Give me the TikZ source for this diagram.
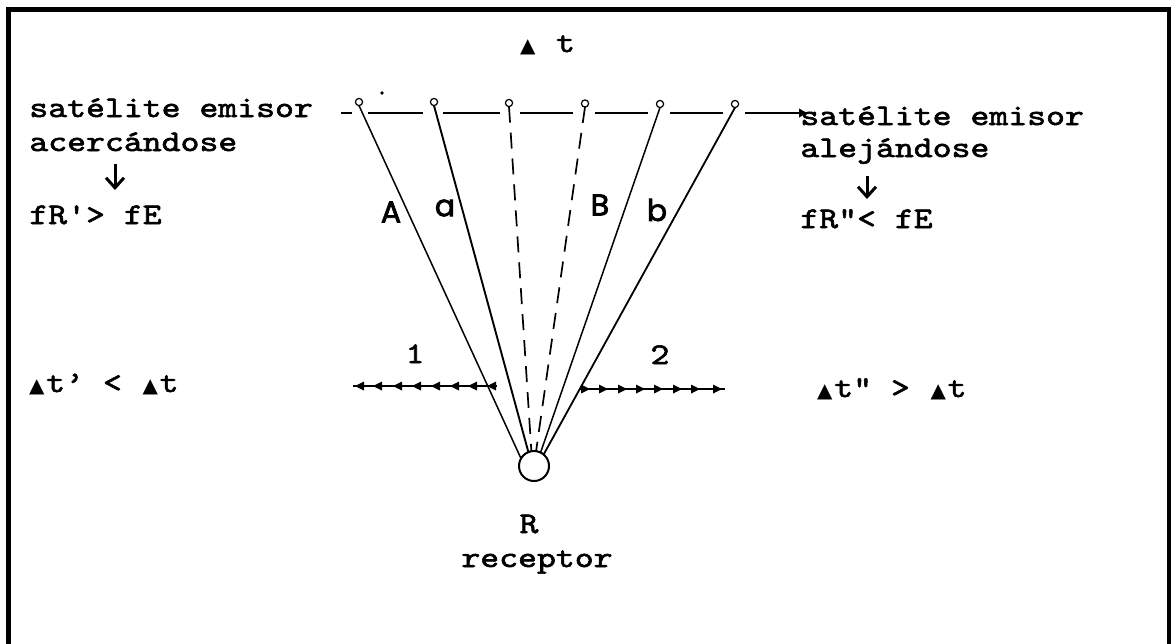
\documentclass[tikz,border=0pt]{standalone}
\usepackage{fontspec}
\usetikzlibrary{arrows.meta}
\newfontfamily\twf{lmmono10-regular.otf}[FakeStretch=1.2, FakeBold=2]
\newfontfamily\symf{DejaVu Sans}
\newfontfamily\handf{Poppins}[FakeBold=2.5]
\newcommand\mytri{\makebox[0.63em]{\symf\fontsize{10}{10}\selectfont ▲}}
\begin{document}
\begin{tikzpicture}[x=0.5pt,y=-0.5pt,
  tw/.style={font=\twf\fontsize{15}{18}\selectfont, inner sep=0pt, anchor=base west},
  lab/.style={font=\handf\fontsize{15}{17}\selectfont, inner sep=0pt},
  sat/.style={circle, draw, line width=0.6pt, minimum size=3.6pt, inner sep=0pt, outer sep=0pt},
  ray/.style={line width=0.75pt},
  dray/.style={line width=0.85pt, dash pattern=on 8pt off 5pt},
  hl/.style={line width=1pt},
  darr/.style={line width=1.5pt, -{Straight Barb[length=5pt,width=9pt,line width=1.5pt]}}
]
\useasboundingbox (0,0) rectangle (1173,643);
% frame
\draw[line width=2.3pt] (8.5,9.5) rectangle (1169,680);

% top label
\node[tw] (dt) at (518,52) {\mytri{} t};

% left texts
\node[tw] (l1) at (29,117) {satélite emisor};
\node[tw] (l2) at (29,151) {acercándose};
\node[tw] (l3) at (29,224) {fR'> fE};
\coordinate (la1) at (115,164);
\coordinate (la2) at (115,190);
\draw[darr] (la1) -- (la2);

% right texts
\node[tw] (r1) at (800,125) {satélite emisor};
\node[tw] (r2) at (800,157) {alejándose};
\node[tw] (r3) at (800,228) {fR"< fE};
\coordinate (ra1) at (867,176);
\coordinate (ra2) at (867,199);
\draw[darr] (ra1) -- (ra2);

% satellites
\node[sat] (s1) at (359,102) {};
\node[sat] (s2) at (434,102) {};
\node[sat] (s3) at (509,103) {};
\node[sat] (s4) at (585,103.5) {};
\node[sat] (s5) at (660,104) {};
\node[sat] (s6) at (735,104) {};
\fill (382,93) circle (0.9pt);

% horizontal track
\foreach \a/\b in {341/352,368/423,443/500,520/573,595/648,670/723}{
  \coordinate (ha\a) at (\a,113);
  \coordinate (hb\a) at (\b,113);
  \draw[hl] (ha\a) -- (hb\a);
}
\coordinate (hend0) at (745,113);
\coordinate (hend1) at (808,113);
\draw[hl,-{Latex[length=4.5pt,width=5pt]}] (hend0) -- (hend1);

% receiver
\node[circle, draw, line width=1pt, minimum size=15pt, inner sep=0pt, outer sep=0pt] (rec) at (534,466) {};
\node[tw, anchor=base] (rl) at (529,533) {R};
\node[tw, anchor=base] (rt) at (537,567) {receptor};

% rays
\draw[ray] (s1.south) -- (rec.150);
\draw[ray, line width=0.95pt] (s2.south) -- (rec.112);
\draw[dray] (s3.south) -- (rec.100);
\draw[dray] (s4.south) -- (rec.82);
\draw[ray] (s5.south) -- (rec.64);
\draw[ray, line width=0.9pt] (s6.south) -- (rec.50);

% ray labels
\node[lab] (lA) at (391,212) {A};
\node[lab] (la) at (445,208) {a};
\node[lab] (lB) at (600,205) {B};
\node[lab] (lb) at (657,210) {b};

% numbers
\node[tw, anchor=base] (n1) at (415,363) {1};
\node[tw, anchor=base] (n2) at (660,364) {2};

% dotted arrow lines
\coordinate (p1) at (353,386);
\coordinate (p2) at (497,386);
\draw[line width=1.3pt] (p1) -- (p2);
\foreach \x in {355,373,393,412,431,450,468,487}{
  \fill (\x,386) -- ++(9,-4.5) -- ++(0,9) -- cycle;
}
\coordinate (q1) at (580,389);
\coordinate (q2) at (725,389);
\draw[line width=1.3pt] (q1) -- (q2);
\foreach \x in {590,608,627,645,663,682,700,722}{
  \fill (\x,389) -- ++(-9,-4.5) -- ++(0,9) -- cycle;
}

% delta t comparisons
\node[tw] (dl) at (27,392) {\mytri t’ < \mytri t};
\node[tw] (dr) at (815,397) {\mytri t" > \mytri t};
\end{tikzpicture}
\end{document}
